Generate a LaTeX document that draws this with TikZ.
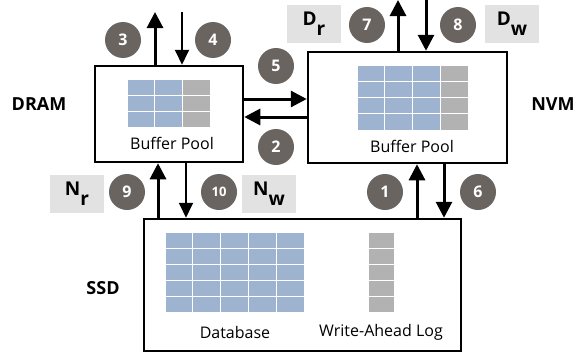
\documentclass[tikz,border=0pt]{standalone}
\usepackage{fontspec}
\setmainfont{Open Sans}
\usetikzlibrary{arrows.meta,calc}
\definecolor{cellblue}{HTML}{9DB3CF}
\definecolor{cellgray}{HTML}{B2B2B2}
\definecolor{circgray}{HTML}{6A6460}
\definecolor{labgray}{HTML}{E2E2E2}
\tikzset{
  membox/.style={draw=black, line width=2.5pt, fill=white, rectangle, inner sep=0pt},
  bluecell/.style={fill=cellblue, draw=white, line width=1pt},
  graycell/.style={fill=cellgray, draw=white, line width=1pt},
  numcirc/.style={circle, fill=circgray, text=white, minimum size=36pt, inner sep=0pt,
    font=\bfseries\fontsize{16}{16}\selectfont},
  labbox/.style={rectangle, fill=labgray, minimum width=54pt, minimum height=38pt, inner sep=0pt,
    font=\bfseries\fontsize{19}{19}\selectfont},
  tierlab/.style={font=\bfseries\fontsize{18}{18}\selectfont},
  bodytext/.style={font=\fontsize{16}{16}\selectfont},
  thickarr/.style={line width=3pt, -{Triangle[length=16pt,width=16pt]}},
  thinarr/.style={line width=2pt, -{Triangle[length=15pt,width=14pt]}},
}
\newcommand{\sublab}[2]{#1\raisebox{-10pt}{#2}}
\begin{document}
\begin{tikzpicture}[x=1pt,y=-1pt]
\useasboundingbox (0,0) rectangle (578,356);

% boxes
\node[membox, minimum width=148pt, minimum height=96pt] (dram) at (169,114) {};
\node[membox, minimum width=199pt, minimum height=111pt] (nvm) at (407.5,107.5) {};
\node[membox, minimum width=317pt, minimum height=132pt] (ssd) at (302.5,285) {};

% DRAM grid
\foreach \i in {0,1} \foreach \j in {0,1,2}
  \draw[bluecell] (127+\i*27.7, 79+\j*16.3) rectangle ++(27.7,16.3);
\foreach \j in {0,1,2}
  \draw[graycell] (127+2*27.7, 79+\j*16.3) rectangle ++(27.7,16.3);

% NVM grid
\foreach \i in {0,1,2} \foreach \j in {0,1,2,3}
  \draw[bluecell] (357+\i*27.75, 65+\j*16.25) rectangle ++(27.75,16.25);
\foreach \j in {0,1,2,3}
  \draw[graycell] (357+3*27.75, 65+\j*16.25) rectangle ++(27.75,16.25);

% Database grid
\foreach \i in {0,...,4} \foreach \j in {0,...,4}
  \draw[bluecell] (165+\i*27.8, 232+\j*16) rectangle ++(27.8,16);
% WAL column
\foreach \j in {0,...,4}
  \draw[graycell] (368, 232+\j*16) rectangle ++(26,16);

% texts in boxes
\node[bodytext] (bpd) at (172,143) {Buffer Pool};
\node[bodytext] (bpn) at (412,146) {Buffer Pool};
\node[bodytext] (db) at (235,332) {Database};
\node[bodytext] (wal) at (381,332) {Write-Ahead Log};

% tier labels
\node[tierlab] (ldram) at (39,104) {DRAM};
\node[tierlab] (lnvm) at (553,104) {NVM};
\node[tierlab] (lssd) at (103,288) {SSD};

% free ends and guide coordinates
\coordinate (t3) at (155,12);
\coordinate (s4) at (182,12);
\coordinate (t7) at (398,0);
\coordinate (s8) at (426,0);
\coordinate (y5) at (0,99);
\coordinate (y2) at (0,117);
\coordinate (x9) at (158,0);
\coordinate (x10) at (186,0);
\coordinate (x1) at (417,0);
\coordinate (x6) at (444,0);

% arrows
\draw[thickarr] (dram.north -| t3) -- (t3);
\draw[thinarr] (s4) -- (dram.north -| s4);
\draw[thickarr] (nvm.north -| t7) -- (t7);
\draw[thickarr] (s8) -- (nvm.north -| s8);
\draw[thickarr] (dram.east |- y5) -- (nvm.west |- y5);
\draw[thickarr] (nvm.west |- y2) -- (dram.east |- y2);
\draw[thickarr] (ssd.north -| x9) -- (dram.south -| x9);
\draw[thinarr] (dram.south -| x10) -- (ssd.north -| x10);
\draw[thickarr] (ssd.north -| x1) -- (nvm.south -| x1);
\draw[thickarr] (nvm.south -| x6) -- (ssd.north -| x6);

% number circles
\node[numcirc] (c3) at (123,40) {3};
\node[numcirc] (c4) at (213,40) {4};
\node[numcirc] (c5) at (276,66) {5};
\node[numcirc] (c2) at (276,147) {2};
\node[numcirc] (c7) at (367,25) {7};
\node[numcirc] (c8) at (458,25) {8};
\node[numcirc] (c9) at (127,192) {9};
\node[numcirc, font=\bfseries\fontsize{13}{13}\selectfont] (c10) at (219,192) {10};
\node[numcirc] (c1) at (385,192) {1};
\node[numcirc] (c6) at (478,192) {6};

% cost labels
\node[labbox] (dr) at (314,24) {\sublab{D}{r}};
\node[labbox] (dw) at (512,24) {\sublab{D}{w}};
\node[labbox] (nr) at (77,193.5) {\sublab{N}{r}};
\node[labbox] (nw) at (269,193.5) {\sublab{N}{w}};
\end{tikzpicture}
\end{document}
